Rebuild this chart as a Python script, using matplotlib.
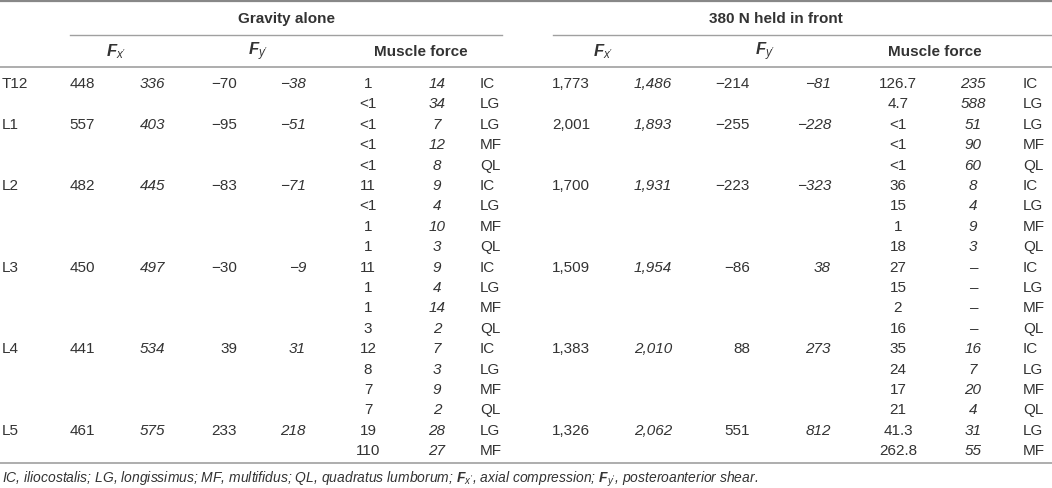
import matplotlib.pyplot as plt

plt.rcParams["font.family"] = ["Liberation Sans", "DejaVu Sans"]
plt.rcParams["mathtext.fontset"] = "custom"
plt.rcParams["mathtext.rm"] = "Liberation Sans"
plt.rcParams["mathtext.it"] = "Liberation Sans:italic"
plt.rcParams["mathtext.bf"] = "Liberation Sans:bold"
plt.rcParams["mathtext.bfit"] = "Liberation Sans:bold:italic"

# table data
levels = ["T12", "L1", "L2", "L3", "L4", "L5"]
muscles = [["IC", "LG"],
           ["LG", "MF", "QL"],
           ["IC", "LG", "MF", "QL"],
           ["IC", "LG", "MF", "QL"],
           ["IC", "LG", "MF", "QL"],
           ["LG", "MF"]]

grav_fx = ["448", "557", "482", "450", "441", "461"]
grav_fx_it = ["336", "403", "445", "497", "534", "575"]
grav_fy = ["\u221270", "\u221295", "\u221283", "\u221230", "39", "233"]
grav_fy_it = ["\u221238", "\u221251", "\u221271", "\u22129", "31", "218"]
grav_mf = [["1", "<1"],
           ["<1", "<1", "<1"],
           ["11", "<1", "1", "1"],
           ["11", "1", "1", "3"],
           ["12", "8", "7", "7"],
           ["19", "110"]]
grav_mf_it = [["14", "34"],
              ["7", "12", "8"],
              ["9", "4", "10", "3"],
              ["9", "4", "14", "2"],
              ["7", "3", "9", "2"],
              ["28", "27"]]

load_fx = ["1,773", "2,001", "1,700", "1,509", "1,383", "1,326"]
load_fx_it = ["1,486", "1,893", "1,931", "1,954", "2,010", "2,062"]
load_fy = ["\u2212214", "\u2212255", "\u2212223", "\u221286", "88", "551"]
load_fy_it = ["\u221281", "\u2212228", "\u2212323", "38", "273", "812"]
load_mf = [["126.7", "4.7"],
           ["<1", "<1", "<1"],
           ["36", "15", "1", "18"],
           ["27", "15", "2", "16"],
           ["35", "24", "17", "21"],
           ["41.3", "262.8"]]
load_mf_it = [["235", "588"],
              ["51", "90", "60"],
              ["8", "4", "9", "3"],
              ["\u2013", "\u2013", "\u2013", "\u2013"],
              ["16", "7", "20", "4"],
              ["31", "55"]]

footnote = ("IC, iliocostalis; LG, longissimus; MF, multifidus; QL, quadratus lumborum; "
            r"$\mathbfit{F}_{x'}$, axial compression; $\mathbfit{F}_{y'}$, posteroanterior shear.")

W, H = 1052, 489
txt = "#333333"
rule = "#a0a0a0"
fs = 11

fig = plt.figure(figsize=(W / 100, H / 100), dpi=100)
ax = fig.add_axes([0, 0, 1, 1])
ax.set_xlim(0, W)
ax.set_ylim(H, 0)
ax.axis("off")


def put(x, y, s, ha="left", italic=False, bold=False, size=fs):
    ax.text(x, y, s, ha=ha, va="center", color=txt, fontsize=size,
            fontstyle="italic" if italic else "normal",
            fontweight="bold" if bold else "normal")


# rules
ax.plot([0, W], [1.5, 1.5], color="#888888", lw=1.6)
ax.plot([70, 502], [36, 36], color=rule, lw=1.0)
ax.plot([553, W], [36, 36], color=rule, lw=1.0)
ax.plot([0, W], [68, 68], color=rule, lw=1.2)
ax.plot([0, W], [464, 464], color=rule, lw=1.2)

# header
put(286, 19, "Gravity alone", ha="center", bold=True)
put(776, 19, "380 N held in front", ha="center", bold=True)
fx_head = r"$\mathbfit{F}_{x'}$"
fy_head = r"$\mathbfit{F}_{y'}$"
put(116, 52, fx_head, ha="center", size=12)
put(258, 52, fy_head, ha="center", size=12)
put(421, 52, "Muscle force", ha="center", bold=True)
put(603, 52, fx_head, ha="center", size=12)
put(765, 52, fy_head, ha="center", size=12)
put(935, 52, "Muscle force", ha="center", bold=True)

# body
y0 = 84
dy = 20.4
row = 0
for i, lev in enumerate(levels):
    y = y0 + row * dy
    put(2, y, lev)
    put(95, y, grav_fx[i], ha="right")
    put(165, y, grav_fx_it[i], ha="right", italic=True)
    put(237, y, grav_fy[i], ha="right")
    put(306, y, grav_fy_it[i], ha="right", italic=True)
    put(590, y, load_fx[i], ha="right")
    put(672, y, load_fx_it[i], ha="right", italic=True)
    put(750, y, load_fy[i], ha="right")
    put(831, y, load_fy_it[i], ha="right", italic=True)
    for j, m in enumerate(muscles[i]):
        yy = y0 + (row + j) * dy
        put(368, yy, grav_mf[i][j], ha="center")
        put(437, yy, grav_mf_it[i][j], ha="center", italic=True)
        put(480, yy, m)
        put(898, yy, load_mf[i][j], ha="center")
        put(973, yy, load_mf_it[i][j], ha="center", italic=True)
        put(1023, yy, m)
    row += len(muscles[i])

put(2, 479, footnote, italic=True, size=10)

fig.savefig("out.png", dpi=100)
